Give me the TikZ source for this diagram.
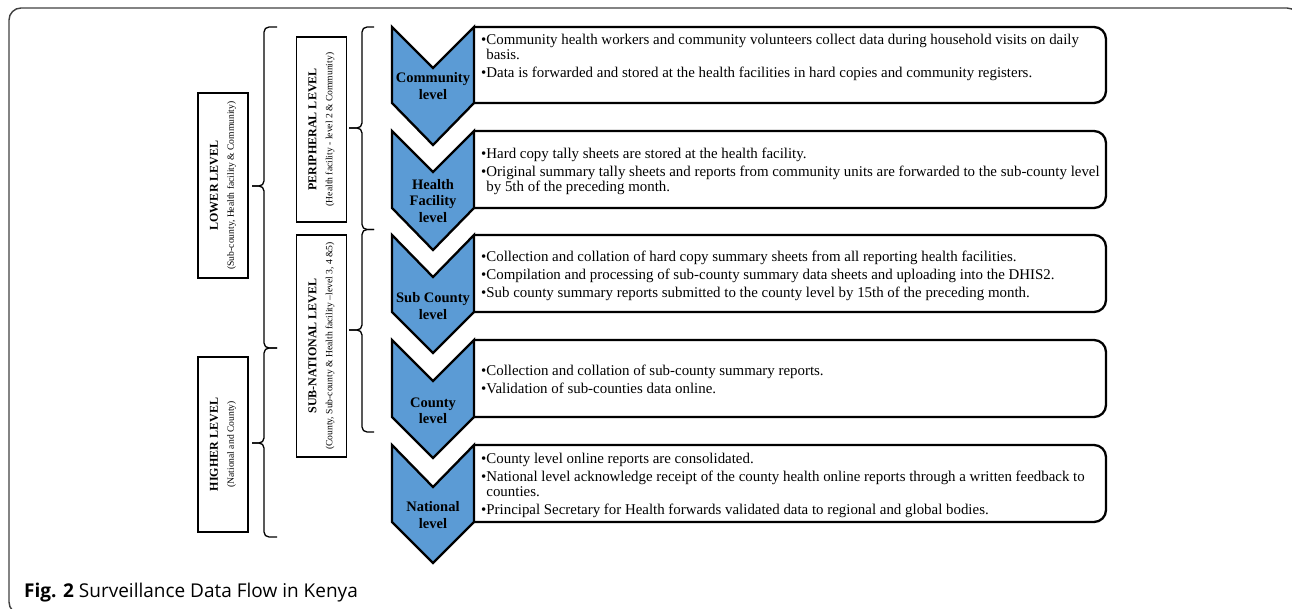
\documentclass[tikz,border=0pt]{standalone}
\usepackage{fontspec}
\setmainfont{Liberation Serif}
\newfontfamily\capfont{Open Sans}
\definecolor{chevblue}{RGB}{91,155,213}
\begin{document}
\begin{tikzpicture}[x=1pt,y=-1pt,
    chevron/.style={draw=black,line width=2.3pt,fill=chevblue,line join=miter},
    infobox/.style={draw=black,line width=2.3pt,rounded corners=12pt},
    infotext/.style={anchor=north west,inner sep=0pt,align=left,font=\fontsize{14.9}{15}\selectfont},
    chevtext/.style={align=center,inner sep=0pt,font=\fontsize{14.5}{16.5}\selectfont\bfseries},
    levelbox/.style={draw=black,line width=1.4pt,rotate=90,align=center,minimum height=50pt,inner sep=0pt,font=\fontsize{12}{16}\selectfont},
    bracket/.style={line width=1.3pt,rounded corners=5pt}]
      % outer frame
      \draw[line width=1.4pt,draw=black!75,rounded corners=12pt] (9,8) rectangle (1299,614);
      % left level boxes
      \node[levelbox,minimum width=185pt] (lower) at (223,185.5)
        {\textbf{LOWER LEVEL}\\{\fontsize{9.6}{11}\selectfont(Sub-county, Health facility \& Community)}};
      \node[levelbox,minimum width=175pt] (higher) at (223,444.5)
        {\textbf{HIGHER LEVEL}\\{\fontsize{9.6}{11}\selectfont(National and County)}};
      \node[levelbox,minimum width=185pt] (periph) at (321.5,129.5)
        {\textbf{PERIPHERAL LEVEL}\\{\fontsize{9.6}{11}\selectfont(Health facility - level 2 \& Community)}};
      \node[levelbox,minimum width=222pt] (subnat) at (321.5,346)
        {\textbf{SUB-NATIONAL LEVEL}\\{\fontsize{9.6}{11}\selectfont(County, Sub-county \& Health facility –level 3, 4 \&5)}};
      % braces
      \coordinate (b1) at (277,27);
      \coordinate (b2) at (277,348);
      \coordinate (b3) at (277,537);
      \coordinate (c1) at (374,27);
      \coordinate (c2) at (374,229.5);
      \coordinate (c3) at (374,432);
      \coordinate (lowertip) at (252,186);
      \coordinate (highertip) at (252,443);
      \coordinate (periphtip) at (349,128);
      \coordinate (subnattip) at (349,330);
      \draw[bracket] (b1) -| ([xshift=12pt]lowertip) -- (lowertip);
      \draw[bracket] (b2) -| ([xshift=12pt]lowertip) -- (lowertip);
      \draw[bracket] (b2) -| ([xshift=12pt]highertip) -- (highertip);
      \draw[bracket] (b3) -| ([xshift=12pt]highertip) -- (highertip);
      \draw[bracket] (c1) -| ([xshift=13pt]periphtip) -- (periphtip);
      \draw[bracket] (c2) -| ([xshift=13pt]periphtip) -- (periphtip);
      \draw[bracket] (c2) -| ([xshift=13pt]subnattip) -- (subnattip);
      \draw[bracket] (c3) -| ([xshift=13pt]subnattip) -- (subnattip);
      % text boxes
      \draw[infobox] (474,27) -- (1106,27) -- (1106,103) -- (474,103);
      \draw[infobox] (474,131) -- (1106,131) -- (1106,208) -- (474,208);
      \draw[infobox] (474,235) -- (1106,235) -- (1106,312) -- (474,312);
      \draw[infobox] (474,340) -- (1106,340) -- (1106,417) -- (474,417);
      \draw[infobox] (474,445) -- (1106,445) -- (1106,522) -- (474,522);
      % chevrons
      \draw[chevron] (392,27) -- (433,68) -- (474,27) -- (474,103) -- (433,145) -- (392,103) -- cycle;
      \draw[chevron] (392,131) -- (433,172) -- (474,131) -- (474,208) -- (433,250) -- (392,208) -- cycle;
      \draw[chevron] (392,235) -- (433,277) -- (474,235) -- (474,312) -- (433,353) -- (392,312) -- cycle;
      \draw[chevron] (392,340) -- (433,381) -- (474,340) -- (474,417) -- (433,458) -- (392,417) -- cycle;
      \draw[chevron] (392,445) -- (433,487) -- (474,445) -- (474,522) -- (433,563) -- (392,522) -- cycle;
      \node[chevtext] (commlbl) at (433,86) {Community\\level};
      \node[chevtext] (hflbl) at (433,201) {Health\\Facility\\level};
      \node[chevtext] (subclbl) at (433,306) {Sub County\\level};
      \node[chevtext] (cntylbl) at (433,411) {County\\level};
      \node[chevtext] (natllbl) at (433,515) {National\\level};
      % box texts
      \node[infotext] (commtxt) at (481,33.7)
        {•Community health workers and community volunteers collect data during household visits on daily\\
         \phantom{•}basis.\\[3pt]
         •Data is forwarded and stored at the health facilities in hard copies and community registers.};
      \node[infotext] (hftxt) at (481,147.4)
        {•Hard copy tally sheets are stored at the health facility.\\[3pt]
         •Original summary tally sheets and reports from community units are forwarded to the sub-county level\\
         \phantom{•}by 5th of the preceding month.};
      \node[infotext] (subctxt) at (481,250.4)
        {•Collection and collation of hard copy summary sheets from all reporting health facilities.\\[3pt]
         •Compilation and processing of sub-county summary data sheets and uploading into the DHIS2.\\[3pt]
         •Sub county summary reports submitted to the county level by 15th of the preceding month.};
      \node[infotext] (cntytxt) at (481,364.7)
        {•Collection and collation of sub-county summary reports.\\[3pt]
         •Validation of sub-counties data online.};
      \node[infotext] (natltxt) at (481,453)
        {•County level online reports are consolidated.\\[3pt]
         •National level acknowledge receipt of the county health online reports through a written feedback to\\
         \phantom{•}counties.\\[3pt]
         •Principal Secretary for Health forwards validated data to regional and global bodies.};
      % caption
      \node[anchor=base west,inner sep=0pt,font=\capfont\fontsize{19}{22}\selectfont] (caption) at (24,597)
        {\textbf{Fig. 2} Surveillance Data Flow in Kenya};
      \pgfresetboundingbox
      \useasboundingbox (0,0) rectangle (1292,609);
\end{tikzpicture}
\end{document}
